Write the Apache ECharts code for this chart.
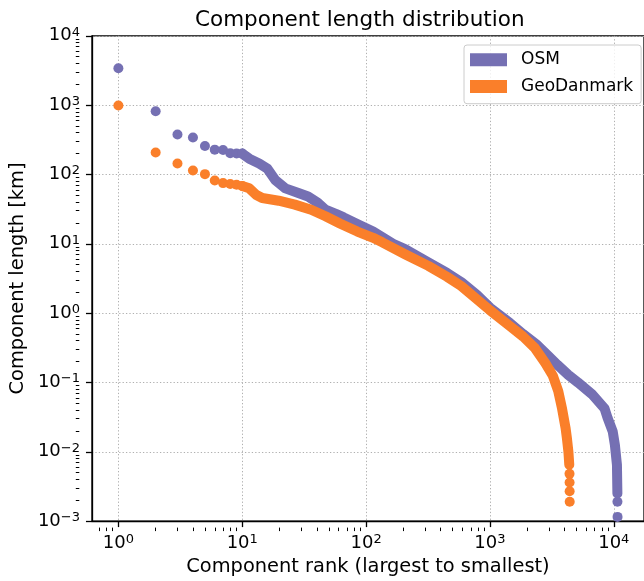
<!DOCTYPE html>
<html>
<head>
<meta charset="utf-8">
<script src="https://cdn.jsdelivr.net/npm/echarts@6/dist/echarts.min.js"></script>
<style>
html,body{margin:0;padding:0;background:#ffffff;}
#c{width:644px;height:581px;}
</style>
</head>
<body>
<div id="c"></div>
<script>
// ---------------- data ----------------
const seriesNames = ['OSM', 'GeoDanmark'];

// OSM: individually visible largest components (+ the last few tail points)
const osmDotRank = [1, 2, 3, 4, 5, 6, 7, 8, 9, 10, 10700, 10720];
const osmDotVal  = [3400, 815, 376, 341, 257, 228, 225, 203, 200, 200, 0.0019, 0.00115];
// OSM: dense part of the rank curve
const osmBandRank = [10, 11.4, 13.7, 15.9, 18.5, 22.3, 28.4, 34, 40.7, 47, 57, 66, 89, 114, 165, 208, 318, 450, 588, 780, 1000, 1450, 1850, 2350, 2900, 3500, 4300, 5130, 6650, 8420, 8900, 9800, 10200, 10600, 10690];
const osmBandVal  = [200, 169, 144, 122, 83, 63, 54, 48, 39, 31, 27, 24, 18.5, 15, 10, 8.3, 5.4, 3.8, 2.8, 1.85, 1.2, 0.72, 0.5, 0.36, 0.25, 0.18, 0.128, 0.1, 0.068, 0.042, 0.031, 0.0196, 0.0126, 0.0065, 0.0025];

// GeoDanmark
const geoDotRank = [1, 2, 3, 4, 5, 6, 7, 8, 9, 10, 4390, 4395, 4400, 4405];
const geoDotVal  = [990, 207, 144, 114, 101, 82, 75, 73, 71, 68, 0.0048, 0.0036, 0.0027, 0.0019];
const geoBandRank = [10, 11.4, 12.9, 14.5, 19.7, 26.6, 36, 47, 62, 85, 114, 135, 208, 318, 450, 588, 780, 1000, 1450, 1850, 2300, 2800, 3220, 3560, 3820, 4080, 4180, 4300, 4370];
const geoBandVal  = [68, 63, 51, 45.7, 41.8, 36.7, 31, 25, 19.5, 15, 12.2, 10.5, 7.0, 4.8, 3.35, 2.45, 1.6, 1.1, 0.65, 0.46, 0.316, 0.19, 0.125, 0.075, 0.042, 0.022, 0.0158, 0.01, 0.0065];

// axes
const xMajorTicks = [1, 10, 100, 1000, 10000];
const yMajorTicks = [0.001, 0.01, 0.1, 1, 10, 100, 1000, 10000];
const minorMultipliers = [2, 3, 4, 5, 6, 7, 8, 9];
const xRange = [0.612, 17530];
const yRange = [0.001, 10000];

const titleText = 'Component length distribution';
const xName = 'Component rank (largest to smallest)';
const yName = 'Component length [km]';
const colors = ['#7570b3', '#fa7f2a'];

// ---------------- build ----------------
function zip(a, b) { return a.map((v, i) => [v, b[i]]); }
function minorTicks(range) {
  const out = [];
  for (let d = Math.floor(Math.log10(range[0])); d <= Math.ceil(Math.log10(range[1])); d++) {
    minorMultipliers.forEach(m => {
      const v = m * Math.pow(10, d);
      if (v > range[0] && v < range[1]) out.push(v);
    });
  }
  return out;
}
const FONT = 'DejaVu Sans';
function supLabel(v) {
  const e = Math.round(Math.log10(v));
  return '{b|10}{e|' + (e < 0 ? '\u2212' + (-e) : String(e)) + '}';
}
const labelRich = {
  b: { fontSize: 18, lineHeight: 20, fontFamily: FONT, color: '#000' },
  e: { fontSize: 13, lineHeight: 10, verticalAlign: 'top', fontFamily: FONT, color: '#000' }
};
const GRID = { left: 89, top: 35.8, width: 564.7, height: 491.8 };
const gridLine = { show: true, lineStyle: { color: '#b0b0b0', width: 1, type: [1.3, 2.1] } };

const chart = echarts.init(document.getElementById('c'), null, { renderer: 'canvas' });
chart.setOption({
  animation: false,
  backgroundColor: '#ffffff',
  title: {
    text: titleText, left: 190, top: 4,
    textStyle: { fontFamily: FONT, fontSize: 21.5, fontWeight: 'normal', color: '#000' }
  },
  legend: {
    data: [{ name: seriesNames[0], icon: 'rect' }, { name: seriesNames[1], icon: 'rect' }],
    orient: 'vertical', left: 464, top: 45,
    itemWidth: 37, itemHeight: 13, itemGap: 9.7,
    padding: [6.3, 8, 8.7, 6],
    backgroundColor: 'rgba(255,255,255,0.8)', borderColor: '#cccccc', borderWidth: 1, borderRadius: 3,
    textStyle: { fontFamily: FONT, fontSize: 17, color: '#000', lineHeight: 16, padding: [0, 0, 0, 9] }
  },
  grid: Object.assign({ show: true, borderColor: '#000', borderWidth: 1.3, backgroundColor: 'transparent', containLabel: false }, GRID),
  xAxis: [
    {
      type: 'log', logBase: 10, min: xRange[0], max: xRange[1], position: 'bottom',
      axisLine: { show: true, lineStyle: { color: '#000', width: 1.3 } },
      axisTick: { show: true, length: 6, lineStyle: { color: '#000', width: 1.3 }, customValues: xMajorTicks },
      axisLabel: { customValues: xMajorTicks, formatter: supLabel, margin: 12, rich: labelRich },
      splitLine: gridLine,
      name: xName, nameLocation: 'middle', nameGap: 28,
      nameTextStyle: { fontFamily: FONT, fontSize: 19.4, color: '#000' }
    },
    {
      type: 'log', logBase: 10, min: xRange[0], max: xRange[1], position: 'top', offset: -GRID.height,
      axisLine: { show: false },
      axisTick: { show: true, inside: true, length: 3.5, lineStyle: { color: '#000', width: 1 }, customValues: minorTicks(xRange) },
      axisLabel: { show: false }, splitLine: { show: false }
    }
  ],
  yAxis: [
    {
      type: 'log', logBase: 10, min: yRange[0], max: yRange[1], position: 'left',
      axisLine: { show: true, lineStyle: { color: '#000', width: 1.3 } },
      axisTick: { show: true, length: 6, lineStyle: { color: '#000', width: 1.3 }, customValues: yMajorTicks },
      axisLabel: { customValues: yMajorTicks, formatter: supLabel, margin: 12, rich: labelRich },
      splitLine: gridLine,
      name: yName, nameLocation: 'middle', nameGap: 57,
      nameTextStyle: { fontFamily: FONT, fontSize: 19.4, color: '#000' }
    },
    {
      type: 'log', logBase: 10, min: yRange[0], max: yRange[1], position: 'right', offset: -GRID.width,
      axisLine: { show: false },
      axisTick: { show: true, inside: true, length: 3.5, lineStyle: { color: '#000', width: 1 }, customValues: minorTicks(yRange) },
      axisLabel: { show: false }, splitLine: { show: false }
    }
  ],
  series: [
    { name: seriesNames[0], type: 'scatter', xAxisIndex: 0, yAxisIndex: 0, symbol: 'circle', symbolSize: 10,
      itemStyle: { color: colors[0], opacity: 1 }, data: zip(osmDotRank, osmDotVal), silent: true },
    { name: seriesNames[0], type: 'line', xAxisIndex: 0, yAxisIndex: 0, symbol: 'none', showSymbol: false,
      itemStyle: { color: colors[0] }, lineStyle: { color: colors[0], width: 10, cap: 'round', join: 'round' },
      data: zip(osmBandRank, osmBandVal), silent: true },
    { name: seriesNames[1], type: 'scatter', xAxisIndex: 0, yAxisIndex: 0, symbol: 'circle', symbolSize: 10,
      itemStyle: { color: colors[1], opacity: 1 }, data: zip(geoDotRank, geoDotVal), silent: true },
    { name: seriesNames[1], type: 'line', xAxisIndex: 0, yAxisIndex: 0, symbol: 'none', showSymbol: false,
      itemStyle: { color: colors[1] }, lineStyle: { color: colors[1], width: 10, cap: 'round', join: 'round' },
      data: zip(geoBandRank, geoBandVal), silent: true }
  ]
});
</script>
</body>
</html>
